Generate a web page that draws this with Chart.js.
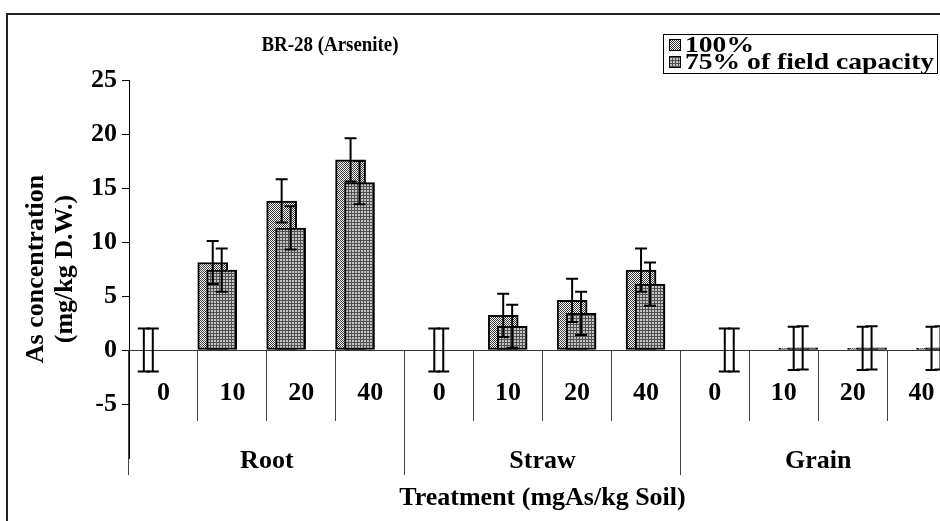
<!DOCTYPE html>
<html>
<head>
<meta charset="utf-8">
<script src="https://cdn.jsdelivr.net/npm/chart.js"></script>
<style>
  html, body { margin: 0; padding: 0; overflow: hidden; background: #fff; }
  #wrap { position: relative; width: 940px; height: 521px; overflow: hidden; }
  #chart { position: absolute; left: 0; top: 0; }
  #frame { position: absolute; left: 6px; top: 13px; width: 1000px; height: 600px;
           border-top: 2px solid #222; border-left: 2px solid #222; pointer-events: none; }
</style>
</head>
<body>
<div id="wrap">
  <canvas id="chart" width="980" height="521"></canvas>
  <div id="frame"></div>
</div>
<script>
  // data
  const chartTitle = 'BR-28 (Arsenite)';
  const doses = ['0', '10', '20', '40', '0', '10', '20', '40', '0', '10', '20', '40'];
  const parts = ['Root', 'Straw', 'Grain'];
  const seriesNames = ['100%', '75% of field capacity'];
  const full = [0, 8.1, 13.8, 17.6, 0, 3.2, 4.6, 7.4, 0, 0.15, 0.15, 0.15];
  const reduced = [0, 7.4, 11.3, 15.5, 0, 2.2, 3.4, 6.1, 0, 0.2, 0.2, 0.2];
  const fullErr = [2, 2, 2, 2, 2, 2, 2, 2, 2, 2, 2, 2];
  const reducedErr = [2, 2, 2, 2, 2, 2, 2, 2, 2, 2, 2, 2];
  const yTicks = [-5, 0, 5, 10, 15, 20, 25];
  const yTitle = ['As concentration', '(mg/kg D.W.)'];
  const xTitle = 'Treatment (mgAs/kg Soil)';

  // bars sit left of each category centre, a little further right in each group
  const BAR_START = 0.215, GROUP_GAP = 0.215, SERIES_SHIFT = 0.13;
  const barX = (i, s) => i + BAR_START + Math.floor(i / 4) * GROUP_GAP + s * SERIES_SHIFT;

  const FONT = 'Liberation Serif';
  Chart.defaults.font.family = FONT;
  Chart.defaults.font.weight = 'bold';
  Chart.defaults.color = '#000';

  const canvas = document.getElementById('chart');
  const ctx = canvas.getContext('2d');

  function makePattern(size, draw) {
    const c = document.createElement('canvas');
    c.width = c.height = size;
    draw(c.getContext('2d'));
    return ctx.createPattern(c, 'repeat');
  }
  const dotFill = makePattern(2, g => {
    g.fillStyle = '#fff'; g.fillRect(0, 0, 2, 2);
    g.fillStyle = '#3a3a3a'; g.fillRect(0, 0, 1, 1); g.fillRect(1, 1, 1, 1);
  });
  const gridFill = makePattern(3, g => {
    g.fillStyle = '#c4c4c4'; g.fillRect(0, 0, 3, 3);
    g.fillStyle = '#505050'; g.fillRect(0, 0, 3, 1); g.fillRect(0, 0, 1, 3);
  });
  const fills = [dotFill, gridFill];
  const errs = [fullErr, reducedErr];

  // error bars on top of both series
  const errorBars = {
    id: 'errorBars',
    afterDatasetsDraw(chart) {
      const { ctx, scales: { y } } = chart;
      ctx.save();
      ctx.strokeStyle = '#000';
      ctx.lineWidth = 2;
      chart.data.datasets.forEach((ds, di) => {
        chart.getDatasetMeta(di).data.forEach((bar, i) => {
          const v = ds.data[i].y, e = errs[di][i];
          const top = y.getPixelForValue(v + e), bot = y.getPixelForValue(v - e);
          ctx.beginPath();
          ctx.moveTo(bar.x, top); ctx.lineTo(bar.x, bot);
          ctx.moveTo(bar.x - 6, top); ctx.lineTo(bar.x + 6, top);
          ctx.moveTo(bar.x - 6, bot); ctx.lineTo(bar.x + 6, bot);
          ctx.stroke();
        });
      });
      ctx.restore();
    }
  };

  // text squeezed/stretched sideways the way the pasted excel picture is
  function wideText(c, text, x, y, sx) {
    c.save();
    c.translate(x, y);
    c.scale(sx, 1);
    c.fillText(text, 0, 0);
    c.restore();
  }

  // title and boxed legend placed like the excel original
  const headerBits = {
    id: 'headerBits',
    afterDraw(chart) {
      const { ctx } = chart;
      ctx.save();
      ctx.fillStyle = '#000';
      ctx.textBaseline = 'middle';
      ctx.font = `bold 22px "${FONT}"`;
      ctx.textAlign = 'center';
      wideText(ctx, chartTitle, 330, 45, 0.86);

      ctx.strokeStyle = '#000';
      ctx.lineWidth = 1;
      ctx.strokeRect(663.5, 34.5, 274, 39);
      ctx.textAlign = 'left';
      ctx.font = `bold 23px "${FONT}"`;
      seriesNames.forEach((name, k) => {
        const cy = 45 + k * 17;
        ctx.fillStyle = fills[k];
        ctx.fillRect(669, cy - 6, 12, 12);
        ctx.strokeRect(669.5, cy - 5.5, 11, 11);
        ctx.fillStyle = '#000';
        wideText(ctx, name, 685, cy + 1, 1.2);
      });
      ctx.restore();
    }
  };

  const tickFont = { size: 26, weight: 'bold' };

  new Chart(canvas, {
    type: 'bar',
    data: {
      datasets: [
        {
          label: seriesNames[0],
          data: full.map((v, i) => ({ x: barX(i, 0), y: v })),
          backgroundColor: dotFill, borderColor: '#000', borderWidth: 2,
          borderSkipped: false, barThickness: 30, grouped: false, order: 2
        },
        {
          label: seriesNames[1],
          data: reduced.map((v, i) => ({ x: barX(i, 1), y: v })),
          backgroundColor: gridFill, borderColor: '#000', borderWidth: 2,
          borderSkipped: false, barThickness: 30, grouped: false, order: 1
        }
      ]
    },
    options: {
      responsive: false,
      animation: false,
      layout: { padding: { left: 0, top: 80, right: 24, bottom: 0 } },
      plugins: { legend: { display: false }, tooltip: { enabled: false } },
      scales: {
        x: {
          type: 'linear', min: 0, max: 12, offset: false, position: 'bottom',
          ticks: { display: false }, grid: { display: false }, border: { display: false },
          afterFit: s => { s.height = 63; },
          title: { display: true, text: xTitle, font: tickFont, padding: { top: 0, bottom: 7 } }
        },
        x2: {
          type: 'category', axis: 'x', labels: doses, position: { y: 0 }, offset: true,
          grid: { offset: true, drawOnChartArea: false, tickLength: 70, color: '#444' },
          border: { display: true, color: '#333', width: 1 },
          ticks: { font: tickFont, padding: -42, maxRotation: 0, autoSkip: false }
        },
        x3: {
          type: 'category', axis: 'x', labels: parts, position: { y: 0 }, offset: true,
          grid: { offset: true, drawOnChartArea: false, tickLength: 125, color: '#444' },
          border: { display: false },
          ticks: { font: tickFont, padding: -29, maxRotation: 0, autoSkip: false }
        },
        y: {
          min: -10, max: 25,
          afterBuildTicks: s => { s.ticks = yTicks.map(v => ({ value: v })); },
          afterFit: s => { s.width = 129; },
          grid: { drawOnChartArea: false, tickLength: 7, color: '#000' },
          border: { display: true, color: '#000', width: 1 },
          ticks: { font: tickFont, padding: 5 },
          title: {
            display: true, text: yTitle,
            font: { size: 26, weight: 'bold', lineHeight: 1.1 },
            padding: { top: 22, bottom: 0 }
          }
        }
      }
    },
    plugins: [errorBars, headerBits]
  });
</script>
</body>
</html>
